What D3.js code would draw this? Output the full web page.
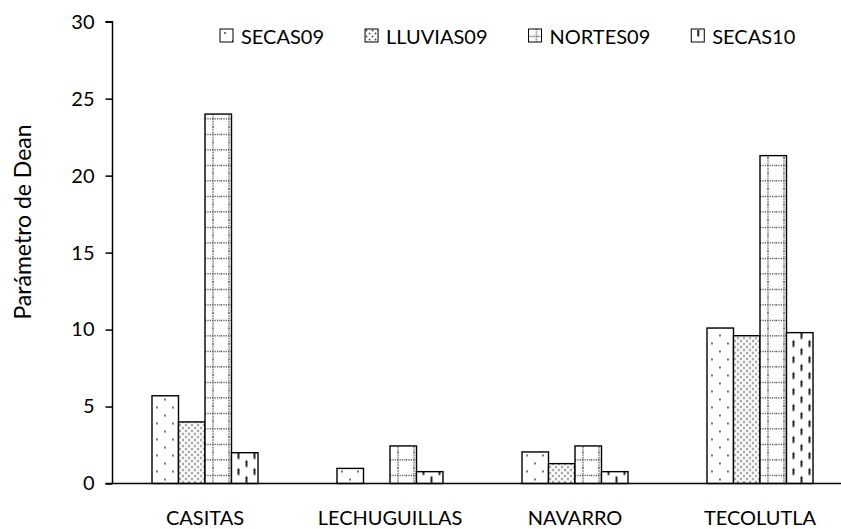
<!DOCTYPE html>
<html lang="es">
<head>
    <meta charset="utf-8">
    <title>Parámetro de Dean</title>
    <script src="https://d3js.org/d3.v7.min.js"></script>
    <style>
        body { margin: 0; background: #fff; }
        text { font-family: Lato, "Open Sans", sans-serif; fill: #000; }
    </style>
</head>
<body>
<svg width="841" height="529"></svg>
<script>
    // datos
    var categories = ["CASITAS", "LECHUGUILLAS", "NAVARRO", "TECOLUTLA"];
    var seriesNames = ["SECAS09", "LLUVIAS09", "NORTES09", "SECAS10"];
    var secas09 = [5.7, 0.98, 2.05, 10.1];
    var lluvias09 = [4.0, 0, 1.29, 9.6];
    var nortes09 = [24.0, 2.44, 2.44, 21.3];
    var secas10 = [2.0, 0.77, 0.77, 9.8];
    var yTicks = [0, 5, 10, 15, 20, 25, 30];
    var yTitle = "Parámetro de Dean";

    var seriesValues = [secas09, lluvias09, nortes09, secas10];

    var svg = d3.select("svg");
    var defs = svg.append("defs");

    var x0 = 112.5, yTop = 21.7, yBottom = 483.5;

    // escala x: el area del grafico sigue mas alla del borde derecho
    var xScale = d3.scaleBand()
        .domain(categories)
        .range([x0, x0 + 740])
        .paddingInner(79 / 185)
        .paddingOuter(79 / 370);

    var xSub = d3.scaleBand()
        .domain(seriesNames)
        .range([0, xScale.bandwidth()]);

    var yScale = d3.scaleLinear()
        .domain([0, 30])
        .range([yBottom, yTop]);

    // tramas tipo excel, una por serie; se alinean con cada barra
    function makePattern(id, serie, px, py) {
        var p;
        if (serie === 0) {
            p = defs.append("pattern").attr("id", id)
                .attr("patternUnits", "userSpaceOnUse")
                .attr("x", px).attr("y", py)
                .attr("width", 16).attr("height", 16);
            p.append("rect").attr("width", 16).attr("height", 16).attr("fill", "#fff");
            p.append("circle").attr("cx", 5).attr("cy", 4).attr("r", 0.9).attr("fill", "#333");
            p.append("circle").attr("cx", 13).attr("cy", 12).attr("r", 0.9).attr("fill", "#333");
        } else if (serie === 1) {
            p = defs.append("pattern").attr("id", id)
                .attr("patternUnits", "userSpaceOnUse")
                .attr("x", px).attr("y", py)
                .attr("width", 6).attr("height", 6);
            p.append("rect").attr("width", 6).attr("height", 6).attr("fill", "#fff");
            p.append("circle").attr("cx", 1.5).attr("cy", 1.5).attr("r", 0.9).attr("fill", "#444");
            p.append("circle").attr("cx", 4.5).attr("cy", 4.5).attr("r", 0.9).attr("fill", "#444");
        } else if (serie === 2) {
            p = defs.append("pattern").attr("id", id)
                .attr("patternUnits", "userSpaceOnUse")
                .attr("x", px).attr("y", py)
                .attr("width", 16).attr("height", 15.5);
            p.append("rect").attr("width", 16).attr("height", 15.5).attr("fill", "#fff");
            p.append("line").attr("x1", 0).attr("x2", 16).attr("y1", 7.5).attr("y2", 7.5)
                .attr("stroke", "#333").attr("stroke-width", 1.2).attr("stroke-dasharray", "1.2,1.2");
            p.append("line").attr("x1", 8).attr("x2", 8).attr("y1", 0).attr("y2", 15.5)
                .attr("stroke", "#333").attr("stroke-width", 1.2).attr("stroke-dasharray", "1.2,1.2");
        } else {
            p = defs.append("pattern").attr("id", id)
                .attr("patternUnits", "userSpaceOnUse")
                .attr("x", px).attr("y", py)
                .attr("width", 16).attr("height", 16);
            p.append("rect").attr("width", 16).attr("height", 16).attr("fill", "#fff");
            p.append("rect").attr("x", 6).attr("y", 1).attr("width", 2).attr("height", 6.5).attr("fill", "#222");
            p.append("rect").attr("x", 14).attr("y", 9).attr("width", 2).attr("height", 6.5).attr("fill", "#222");
        }
    }

    // datos en forma plana para las barras
    var bars = [];
    categories.forEach(function(c, ci) {
        seriesNames.forEach(function(s, si) {
            bars.push({cat: c, serie: s, si: si, ci: ci, value: seriesValues[si][ci]});
        });
    });

    bars.forEach(function(d) {
        makePattern("p" + d.si + "_" + d.ci, d.si, xScale(d.cat) + xSub(d.serie), yBottom);
    });

    svg.append("g").selectAll("rect")
        .data(bars.filter(function(d) { return d.value > 0; }))
        .enter()
        .append("rect")
        .attr("x", function(d) { return xScale(d.cat) + xSub(d.serie); })
        .attr("y", function(d) { return yScale(d.value); })
        .attr("width", xSub.bandwidth())
        .attr("height", function(d) { return yBottom - yScale(d.value); })
        .attr("fill", function(d) { return "url(#p" + d.si + "_" + d.ci + ")"; })
        .attr("stroke", "#000")
        .attr("stroke-width", 1.4);

    // eje y
    var yAxis = d3.axisLeft(yScale)
        .tickValues(yTicks)
        .tickSize(7)
        .tickPadding(11);
    var gy = svg.append("g")
        .attr("transform", "translate(" + x0 + ",0)")
        .call(yAxis);
    gy.select(".domain").attr("stroke", "#000").attr("stroke-width", 1.5)
        .attr("d", "M-7," + yTop + "H0V" + yBottom);
    gy.selectAll(".tick line").attr("stroke", "#000").attr("stroke-width", 1.5);
    gy.selectAll(".tick text")
        .style("font-family", "Lato, 'Open Sans', sans-serif")
        .attr("font-size", 20)
        .attr("fill", "#000");

    // eje x (sin marcas)
    var xAxis = d3.axisBottom(xScale).tickSize(0).tickPadding(27);
    var gx = svg.append("g")
        .attr("transform", "translate(0," + yBottom + ")")
        .call(xAxis);
    gx.select(".domain").attr("stroke", "#000").attr("stroke-width", 1.5)
        .attr("d", "M" + (x0 - 7) + ",0H" + (x0 + 740));
    gx.selectAll(".tick text")
        .style("font-family", "Lato, 'Open Sans', sans-serif")
        .attr("font-size", 20)
        .attr("fill", "#000");

    // titulo del eje y
    svg.append("text")
        .attr("transform", "translate(31,222) rotate(-90)")
        .attr("text-anchor", "middle")
        .attr("font-size", 23)
        .text(yTitle);

    // leyenda
    var lx = 220;
    seriesNames.forEach(function(s, si) {
        makePattern("lp" + si, si, lx, 29);
        svg.append("rect")
            .attr("x", lx).attr("y", 29)
            .attr("width", 13).attr("height", 13)
            .attr("fill", "url(#lp" + si + ")")
            .attr("stroke", "#000").attr("stroke-width", 1);
        var t = svg.append("text")
            .attr("x", lx + 21).attr("y", 44)
            .attr("font-size", 20)
            .text(s);
        lx += 21 + t.node().getComputedTextLength() + 41;
    });
</script>
</body>
</html>
